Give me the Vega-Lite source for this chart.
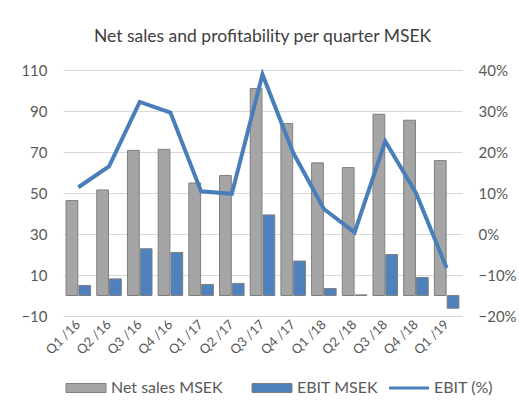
{
  "$schema": "https://vega.github.io/schema/vega-lite/v6.json",
  "autosize": "none",
  "width": 399,
  "height": 246,
  "padding": {"left": 63, "top": 70, "right": 57, "bottom": 87},
  "background": "white",
  "config": {
    "font": "Lato",
    "view": {"stroke": null},
    "axis": {"labelColor": "#595959", "labelFontSize": 15, "domain": false, "ticks": false, "title": null},
    "legend": {"labelFontSize": 16, "labelColor": "#595959", "orient": "bottom", "direction": "horizontal", "title": null, "offset": 23, "columnPadding": 22, "symbolSize": 100, "labelOffset": 32}
  },
  "title": {
    "text": "Net sales and profitability per quarter MSEK",
    "fontSize": 17.5,
    "fontWeight": "normal",
    "color": "#404040",
    "offset": 18
  },
  "datasets": {
    "bars": [
      {"q": "Q1 /16", "series": "Net sales  MSEK", "value": 46.3},
      {"q": "Q1 /16", "series": "EBIT MSEK", "value": 4.9},
      {"q": "Q2 /16", "series": "Net sales  MSEK", "value": 51.5},
      {"q": "Q2 /16", "series": "EBIT MSEK", "value": 8.1},
      {"q": "Q3 /16", "series": "Net sales  MSEK", "value": 70.8},
      {"q": "Q3 /16", "series": "EBIT MSEK", "value": 22.8},
      {"q": "Q4 /16", "series": "Net sales  MSEK", "value": 71.3},
      {"q": "Q4 /16", "series": "EBIT MSEK", "value": 21.0},
      {"q": "Q1 /17", "series": "Net sales  MSEK", "value": 54.9},
      {"q": "Q1 /17", "series": "EBIT MSEK", "value": 5.4},
      {"q": "Q2 /17", "series": "Net sales  MSEK", "value": 58.5},
      {"q": "Q2 /17", "series": "EBIT MSEK", "value": 5.9},
      {"q": "Q3 /17", "series": "Net sales  MSEK", "value": 101.0},
      {"q": "Q3 /17", "series": "EBIT MSEK", "value": 39.3},
      {"q": "Q4 /17", "series": "Net sales  MSEK", "value": 83.9},
      {"q": "Q4 /17", "series": "EBIT MSEK", "value": 16.8},
      {"q": "Q1 /18", "series": "Net sales  MSEK", "value": 64.7},
      {"q": "Q1 /18", "series": "EBIT MSEK", "value": 3.4},
      {"q": "Q2 /18", "series": "Net sales  MSEK", "value": 62.4},
      {"q": "Q2 /18", "series": "EBIT MSEK", "value": 0.3},
      {"q": "Q3 /18", "series": "Net sales  MSEK", "value": 88.4},
      {"q": "Q3 /18", "series": "EBIT MSEK", "value": 20.0},
      {"q": "Q4 /18", "series": "Net sales  MSEK", "value": 85.5},
      {"q": "Q4 /18", "series": "EBIT MSEK", "value": 8.8},
      {"q": "Q1 /19", "series": "Net sales  MSEK", "value": 65.8},
      {"q": "Q1 /19", "series": "EBIT MSEK", "value": -6.2}
    ],
    "line": [
      {"q": "Q1 /16", "series": "EBIT (%)", "pct": 0.114},
      {"q": "Q2 /16", "series": "EBIT (%)", "pct": 0.165},
      {"q": "Q3 /16", "series": "EBIT (%)", "pct": 0.322},
      {"q": "Q4 /16", "series": "EBIT (%)", "pct": 0.296},
      {"q": "Q1 /17", "series": "EBIT (%)", "pct": 0.104},
      {"q": "Q2 /17", "series": "EBIT (%)", "pct": 0.098},
      {"q": "Q3 /17", "series": "EBIT (%)", "pct": 0.389},
      {"q": "Q4 /17", "series": "EBIT (%)", "pct": 0.198},
      {"q": "Q1 /18", "series": "EBIT (%)", "pct": 0.061},
      {"q": "Q2 /18", "series": "EBIT (%)", "pct": 0.004},
      {"q": "Q3 /18", "series": "EBIT (%)", "pct": 0.226},
      {"q": "Q4 /18", "series": "EBIT (%)", "pct": 0.100},
      {"q": "Q1 /19", "series": "EBIT (%)", "pct": -0.083}
    ]
  },
  "encoding": {
    "x": {
      "field": "q",
      "type": "nominal",
      "sort": null,
      "scale": {"paddingInner": 0.2, "paddingOuter": 0.1},
      "axis": {"labelAngle": -45, "labelAlign": "right", "labelBaseline": "middle", "labelPadding": 6, "labelFontSize": 13, "grid": false}
    }
  },
  "layer": [
    {
      "data": {"name": "bars"},
      "layer": [
        {
          "mark": {"type": "bar", "stroke": "#7f7f7f", "strokeWidth": 1},
          "encoding": {
            "xOffset": {"field": "series", "type": "nominal", "sort": ["Net sales  MSEK", "EBIT MSEK"], "scale": {"paddingInner": 0.08}},
            "y": {
              "field": "value",
              "type": "quantitative",
              "scale": {"domain": [-10, 110], "nice": false, "zero": false},
              "axis": {"values": [-10, 10, 30, 50, 70, 90, 110], "grid": true, "gridColor": "#d9d9d9", "labelPadding": 16, "orient": "left"}
            },
            "fill": {
              "field": "series",
              "type": "nominal",
              "scale": {"domain": ["Net sales  MSEK", "EBIT MSEK"], "range": ["#a5a5a5", "#4f81bd"]},
              "legend": {
                "symbolType": "M-1,-0.9L7,-0.9L7,0.9L-1,0.9Z",
                "symbolStrokeColor": "#7f7f7f",
                "symbolStrokeWidth": 1,
                "symbolOpacity": 1
              }
            }
          }
        },
        {
          "mark": {"type": "rule", "color": "#bfbfbf", "strokeWidth": 1},
          "encoding": {"y": {"datum": 0}}
        }
      ]
    },
    {
      "data": {"name": "line"},
      "mark": {"type": "line", "strokeWidth": 4, "strokeJoin": "miter"},
      "encoding": {
        "y": {
          "field": "pct",
          "type": "quantitative",
          "scale": {"domain": [-0.2, 0.4], "nice": false, "zero": false},
          "axis": {"orient": "right", "format": ".0%", "values": [-0.2, -0.1, 0, 0.1, 0.2, 0.3, 0.4], "grid": false, "labelPadding": 16}
        },
        "stroke": {
          "field": "series",
          "type": "nominal",
          "scale": {"domain": ["EBIT (%)"], "range": ["#4a7ebb"]},
          "legend": {
            "symbolType": "M-1,0L7,0",
            "symbolStrokeWidth": 3
          }
        }
      }
    }
  ],
  "resolve": {"scale": {"y": "independent"}}
}
